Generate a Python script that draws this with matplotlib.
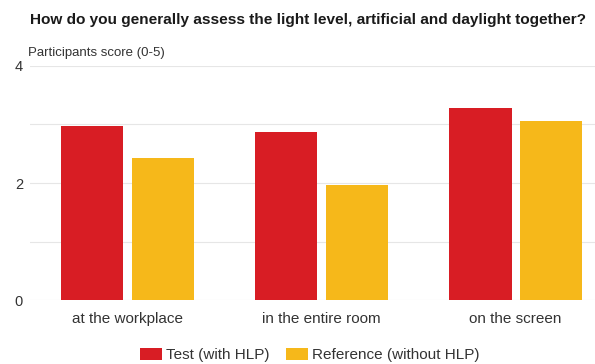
import matplotlib.pyplot as plt
import numpy as np

plt.rcParams['font.family'] = ['Liberation Sans', 'DejaVu Sans']

locations = ["at the workplace", "in the entire room", "on the screen"]
test_scores = [2.97, 2.88, 3.29]
reference_scores = [2.43, 1.97, 3.06]
series_names = ["Test (with HLP)", "Reference (without HLP)"]

RED = "#d81d24"
YELLOW = "#f6b81a"

fig = plt.figure(figsize=(5.95, 3.64), dpi=100)
ax = fig.add_axes([0.0504, 0.1758, 0.9496, 0.6429])

x = np.arange(len(locations))
width = 0.32
ax.bar(x - 0.18, test_scores, width, color=RED, label=series_names[0], zorder=3)
ax.bar(x + 0.185, reference_scores, width, color=YELLOW, label=series_names[1], zorder=3)

ax.set_xlim(-0.5, 2.41)
ax.set_ylim(0, 4)
ax.set_yticks([0, 1, 2, 3, 4])
ax.set_yticklabels(["0", "", "2", "", "4"])
ax.set_xticks(x, locations)
ax.grid(axis="y", color="#e6e6e6", linewidth=0.8, zorder=0)
ax.tick_params(length=0, labelcolor="#333333")
ax.tick_params(axis="y", pad=5, labelsize=10.5)
ax.tick_params(axis="x", pad=8.5, labelsize=11)
for side in ax.spines.values():
    side.set_visible(False)

fig.text(0.05, 0.945, "How do you generally assess the light level, artificial and daylight together?",
         fontsize=11.1, fontweight="bold", color="#1a1a1a", va="center")
fig.text(0.047, 0.854, "Participants score (0-5)", fontsize=9.5, color="#333333", va="center")

fig.legend(loc="center", bbox_to_anchor=(0.521, 0.025), ncols=2, frameon=False,
           fontsize=11, handlelength=1.4, handleheight=0.85, columnspacing=1.1,
           handletextpad=0.3, labelcolor="#333333")

fig.savefig("out.png", dpi=100)
